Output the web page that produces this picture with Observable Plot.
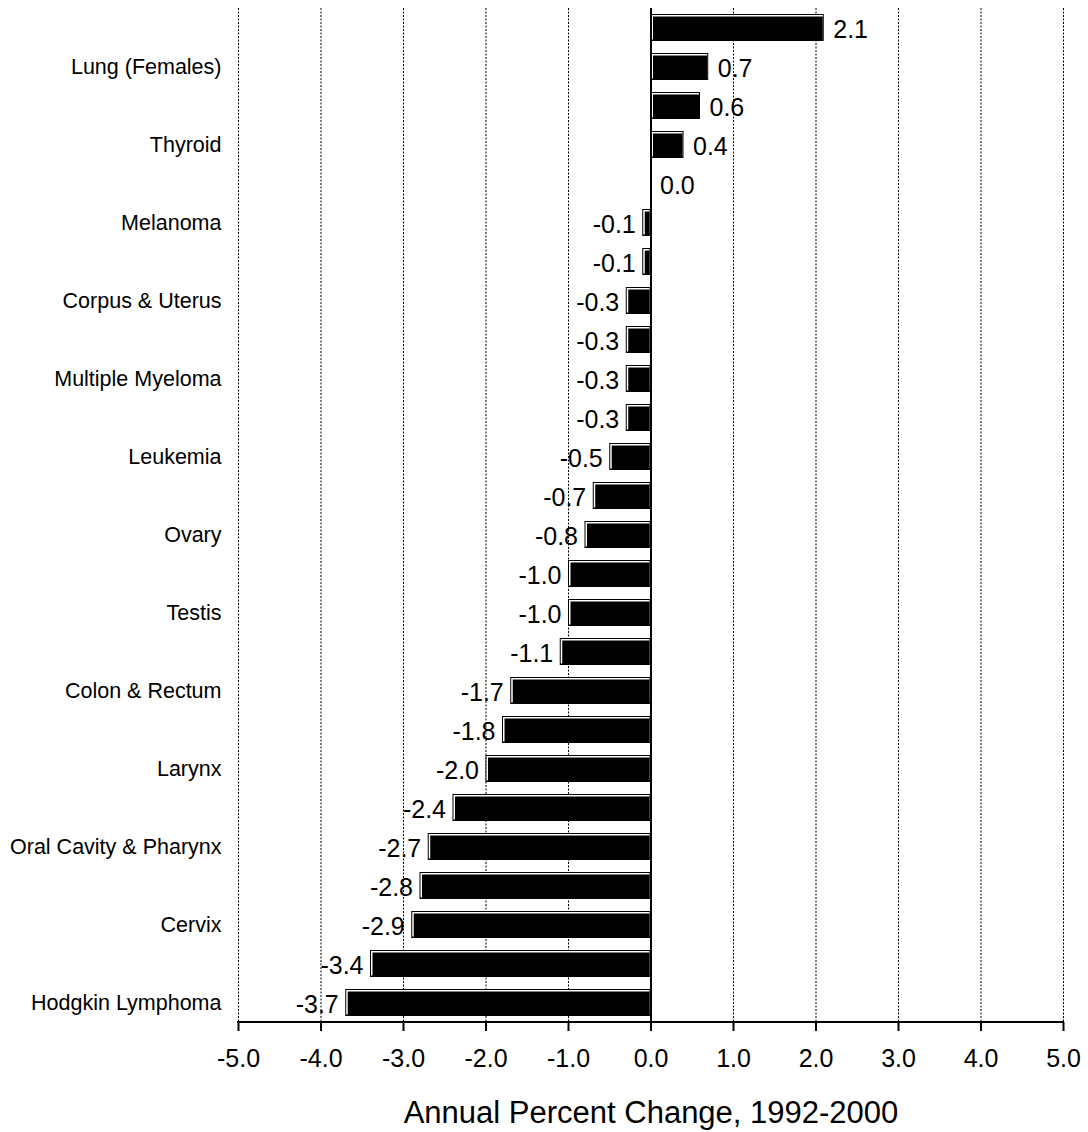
<!DOCTYPE html>
<html><head><meta charset="utf-8">
<script src="https://cdn.jsdelivr.net/npm/d3@7"></script>
<script src="https://cdn.jsdelivr.net/npm/@observablehq/plot@0.6"></script>
<style>body{margin:0;background:#fff} svg{display:block}</style>
</head><body><div id="chart"></div>
<script>
// Category labels (every other bar is labeled in the original chart)
const labels = ["", "Lung (Females)", "", "Thyroid", "", "Melanoma", "", "Corpus & Uterus", "",
  "Multiple Myeloma", "", "Leukemia", "", "Ovary", "", "Testis", "", "Colon & Rectum", "",
  "Larynx", "", "Oral Cavity & Pharynx", "", "Cervix", "", "Hodgkin Lymphoma"];
// Annual percent change values, top to bottom
const values = [2.1, 0.7, 0.6, 0.4, 0.0, -0.1, -0.1, -0.3, -0.3, -0.3, -0.3, -0.5, -0.7,
  -0.8, -1.0, -1.0, -1.1, -1.7, -1.8, -2.0, -2.4, -2.7, -2.8, -2.9, -3.4, -3.7];
const xTicks = [-5, -4, -3, -2, -1, 0, 1, 2, 3, 4, 5];
const axisTitle = "Annual Percent Change, 1992-2000";

const rows = values.map((v, i) => ({i, value: v}));
const bars = rows.filter(d => d.value !== 0);
const fmt = d => d.toFixed(1);

const chart = Plot.plot({
  width: 1088, height: 1132,
  marginTop: 8, marginBottom: 110, marginLeft: 238, marginRight: 25,
  style: {fontFamily: "'Liberation Sans', Arial, sans-serif", background: "#fff", color: "#000"},
  x: {domain: [-5, 5], label: null},
  y: {domain: rows.map(d => d.i), paddingInner: 0.3, paddingOuter: 0.135, label: null},
  marks: [
    Plot.ruleX(xTicks, {stroke: "#000", strokeWidth: 1, strokeDasharray: "2,1.5"}),
    Plot.barX(bars, {x: "value", y: "i", fill: "#000"}),
    Plot.barX(bars, {x: "value", y: "i", fill: "#fff", insetTop: 1, insetLeft: 1, insetRight: 1, insetBottom: 1.5}),
    Plot.barX(bars, {x: "value", y: "i", fill: "#000", insetTop: 2.5, insetLeft: 2.5, insetRight: 1, insetBottom: 1}),
    Plot.ruleX([0], {stroke: "#000", strokeWidth: 2}),
    Plot.text(rows.filter(d => d.value >= 0), {x: "value", y: "i", text: d => fmt(d.value),
      textAnchor: "start", dx: 9, dy: 2, fontSize: 25, fill: "#000"}),
    Plot.text(rows.filter(d => d.value < 0), {x: "value", y: "i", text: d => fmt(d.value),
      textAnchor: "end", dx: -7, dy: 2, fontSize: 25, fill: "#000"}),
    Plot.axisX({ticks: xTicks, tickFormat: fmt, tickSize: 9, tickPadding: 18, fontSize: 25,
      strokeWidth: 2, label: null}),
    Plot.axisY({tickSize: 0, tickPadding: 17, tickFormat: i => labels[i], fontSize: 21.5, label: null}),
    Plot.text([axisTitle], {frameAnchor: "bottom", lineAnchor: "middle", dy: 91, fontSize: 31, fill: "#000"})
  ]
});
document.getElementById("chart").appendChild(chart);

// bottom axis baseline drawn from Plot's x scale
const xs = chart.scale("x");
d3.select(chart).append("line")
  .attr("x1", xs.apply(-5) - 1).attr("x2", xs.apply(5) + 1)
  .attr("y1", 1132 - 110).attr("y2", 1132 - 110)
  .attr("stroke", "#000").attr("stroke-width", 2);
</script>
</body></html>
